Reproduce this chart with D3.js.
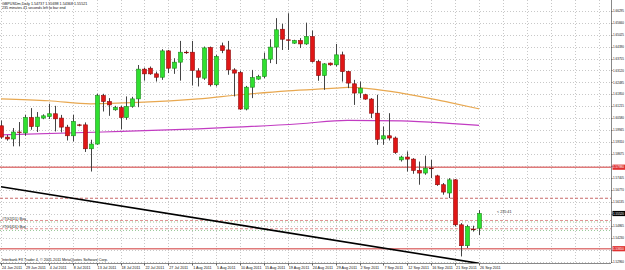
<!DOCTYPE html>
<html>
<head>
<meta charset="utf-8">
<script src="https://cdn.jsdelivr.net/npm/d3@7"></script>
<style>
  body { margin: 0; background: #fff; overflow: hidden; }
  svg { display: block; }
  text { font-family: "Liberation Sans", Arial, sans-serif; }
</style>
</head>
<body>
<script>
// GBPUSDm daily bars (broker has Sunday bars)
var barDates = ["2011-06-24","2011-06-26","2011-06-27","2011-06-28","2011-06-29","2011-06-30",
  "2011-07-01","2011-07-03","2011-07-04","2011-07-05","2011-07-06","2011-07-07","2011-07-08","2011-07-10",
  "2011-07-11","2011-07-12","2011-07-13","2011-07-14","2011-07-15","2011-07-17","2011-07-18","2011-07-19",
  "2011-07-20","2011-07-21","2011-07-22","2011-07-24","2011-07-25","2011-07-26","2011-07-27","2011-07-28",
  "2011-07-29","2011-07-31","2011-08-01","2011-08-02","2011-08-03","2011-08-04","2011-08-05","2011-08-07",
  "2011-08-08","2011-08-09","2011-08-10","2011-08-11","2011-08-12","2011-08-14","2011-08-15","2011-08-16",
  "2011-08-17","2011-08-18","2011-08-19","2011-08-21","2011-08-22","2011-08-23","2011-08-24","2011-08-25",
  "2011-08-26","2011-08-28","2011-08-29","2011-08-30","2011-08-31","2011-09-01","2011-09-02","2011-09-04",
  "2011-09-05","2011-09-06","2011-09-07","2011-09-08","2011-09-09","2011-09-11","2011-09-12","2011-09-13",
  "2011-09-14","2011-09-15","2011-09-16","2011-09-18","2011-09-19","2011-09-20","2011-09-21","2011-09-22",
  "2011-09-23","2011-09-25","2011-09-26"];

var opens = [1.6018,1.5958,1.5948,1.5985,1.5980,1.6062,1.6014,1.6059,1.6067,1.6082,
  1.6059,1.6011,1.5965,1.6023,1.6023,1.5896,1.5921,1.6179,1.6147,1.6103,
  1.6115,1.6062,1.6121,1.6161,1.6319,1.6324,1.6294,1.6276,1.6416,1.6324,
  1.6356,1.6409,1.6409,1.6310,1.6271,1.6434,1.6236,1.6443,1.6421,1.6315,
  1.6301,1.6107,1.6223,1.6266,1.6280,1.6372,1.6436,1.6531,1.6475,1.6457,
  1.6471,1.6453,1.6492,1.6359,1.6285,1.6351,1.6342,1.6395,1.6306,1.6241,
  1.6192,1.6183,1.6160,1.6085,1.5948,1.5965,1.5953,1.5837,1.5852,1.5841,
  1.5781,1.5767,1.5793,1.5752,1.5705,1.5661,1.5731,1.5492,1.5381,1.5469,
  1.5474];
var highs = [1.6046,1.5970,1.6006,1.6038,1.6076,1.6112,1.6091,1.6079,1.6135,1.6124,
  1.6076,1.6023,1.6076,1.6028,1.6036,1.5944,1.6188,1.6188,1.6165,1.6124,
  1.6124,1.6174,1.6172,1.6341,1.6327,1.6333,1.6306,1.6425,1.6421,1.6377,
  1.6469,1.6418,1.6469,1.6324,1.6439,1.6439,1.6395,1.6460,1.6469,1.6324,
  1.6310,1.6230,1.6315,1.6289,1.6407,1.6478,1.6590,1.6560,1.6616,1.6475,
  1.6484,1.6566,1.6524,1.6368,1.6351,1.6354,1.6453,1.6412,1.6310,1.6262,
  1.6253,1.6188,1.6165,1.6183,1.6014,1.6085,1.5961,1.5859,1.5882,1.5846,
  1.5828,1.5859,1.5837,1.5758,1.5714,1.5740,1.5735,1.5501,1.5492,1.5487,
  1.5570];
var lows = [1.5949,1.5939,1.5909,1.5909,1.5965,1.5997,1.5985,1.6053,1.6054,1.5988,
  1.5983,1.5940,1.5935,1.6015,1.5879,1.5775,1.5917,1.6094,1.6071,1.6098,
  1.6000,1.6050,1.6114,1.6117,1.6258,1.6289,1.6253,1.6262,1.6298,1.6294,
  1.6258,1.6400,1.6232,1.6227,1.6262,1.6227,1.6227,1.6404,1.6289,1.6174,
  1.6103,1.6100,1.6165,1.6262,1.6271,1.6351,1.6346,1.6421,1.6421,1.6453,
  1.6431,1.6448,1.6354,1.6257,1.6209,1.6337,1.6333,1.6253,1.6218,1.6129,
  1.6165,1.6156,1.6059,1.5917,1.5917,1.5940,1.5869,1.5828,1.5775,1.5763,
  1.5705,1.5758,1.5740,1.5699,1.5652,1.5634,1.5483,1.5324,1.5369,1.5456,
  1.5437];
var closes = [1.5958,1.5948,1.5985,1.5982,1.6062,1.6014,1.6064,1.6071,1.6082,1.6055,
  1.6011,1.5965,1.6041,1.6020,1.5896,1.5921,1.6179,1.6147,1.6129,1.6115,
  1.6062,1.6121,1.6161,1.6319,1.6294,1.6294,1.6276,1.6416,1.6324,1.6356,
  1.6409,1.6408,1.6312,1.6276,1.6432,1.6236,1.6386,1.6418,1.6315,1.6298,
  1.6107,1.6223,1.6274,1.6280,1.6372,1.6436,1.6528,1.6478,1.6473,1.6471,
  1.6453,1.6492,1.6359,1.6285,1.6347,1.6342,1.6395,1.6306,1.6245,1.6192,
  1.6218,1.6160,1.6085,1.5946,1.5965,1.5953,1.5876,1.5852,1.5841,1.5781,
  1.5767,1.5793,1.5792,1.5705,1.5666,1.5731,1.5492,1.5381,1.5483,1.5467,
  1.5552];

// moving averages, read at a few bars
var orangeMaBars = [0, 8, 15, 23, 33, 40, 48, 56, 58, 67, 75, 80];
var orangeMaValues = [1.6161, 1.6151, 1.6135, 1.6142, 1.6161, 1.6183, 1.6204, 1.6218, 1.6222, 1.6192, 1.6142, 1.6108];
var magentaMaBars = [0, 17, 33, 50, 58, 67, 75, 80];
var magentaMaValues = [1.5970, 1.5985, 1.6002, 1.6029, 1.6047, 1.6044, 1.6031, 1.6020];

// trend line (bar index, price)
var trendBars = [0, 80];
var trendPrices = [1.5694, 1.5287];

// horizontal levels
var redLevels = [1.5798, 1.5365];
var dashLevel = 1.5633;
var targetNames = ["#TG2(D1) Buy", "#TG1(D1) Buy"];
var targetRed = [1.5515, 1.5471];
var targetGreen = [1.5507, 1.5462];
var currentPrice = 1.5552;

var priceTicks = [1.52960, 1.53595, 1.54230, 1.54865, 1.55500, 1.56135, 1.56770, 1.57405, 1.58040, 1.58675,
  1.59310, 1.59945, 1.60580, 1.61215, 1.61850, 1.62485, 1.63120, 1.63755, 1.64390, 1.65025, 1.65660, 1.66295];

var headerLines = ["GBPUSDm,Daily  1.54737 1.55698 1.54368 1.55521", "235 minutes 41 seconds left to bar end"];
var timerText = "< 235:41";
var copyright = "Interbank FX Trader 4, \u00a9 2001-2011 MetaQuotes Software Corp.";

// ---- layout
var width = 625, height = 270;
var plotRight = 611, plotBottom = 263;
var fs = 3.7;
var axisFs = 3.05;

var svg = d3.select("body").append("svg")
    .attr("width", width)
    .attr("height", height);

var parseDate = d3.timeParse("%Y-%m-%d");
var fmtDate = d3.timeFormat("%-d %b %Y");

var x = d3.scaleLinear().domain([0, barDates.length - 1]).range([1, 479]);
var y = d3.scaleLinear().domain([priceTicks[0], priceTicks[priceTicks.length - 1]]).range([261.7, 10.7]);

svg.append("defs").append("clipPath").attr("id", "plot")
  .append("rect").attr("x", 0).attr("y", 0).attr("width", plotRight).attr("height", plotBottom);

var plot = svg.append("g").attr("clip-path", "url(#plot)");

// grid
var gridX = d3.range(0, 200, 4).filter(function(i) { return x(i) < plotRight - 2; });
plot.selectAll(".gx").data(gridX).enter().append("line")
  .attr("x1", function(i) { return Math.round(x(i)) + 0.5; })
  .attr("x2", function(i) { return Math.round(x(i)) + 0.5; })
  .attr("y1", 0).attr("y2", plotBottom)
  .attr("stroke", "#c8c8c8").attr("stroke-dasharray", "1,2");
plot.selectAll(".gy").data(priceTicks).enter().append("line")
  .attr("x1", 0).attr("x2", plotRight)
  .attr("y1", function(p) { return Math.round(y(p)) + 0.5; })
  .attr("y2", function(p) { return Math.round(y(p)) + 0.5; })
  .attr("stroke", "#c8c8c8").attr("stroke-dasharray", "1,2");

// levels
plot.selectAll(".red").data(redLevels).enter().append("line")
  .attr("x1", 0).attr("x2", plotRight)
  .attr("y1", function(p) { return y(p); }).attr("y2", function(p) { return y(p); })
  .attr("stroke", "#e07a7a").attr("stroke-width", 1.5);
plot.append("line")
  .attr("x1", 0).attr("x2", plotRight)
  .attr("y1", y(dashLevel)).attr("y2", y(dashLevel))
  .attr("stroke", "#c86a6a").attr("stroke-width", 1.2).attr("stroke-dasharray", "3,2");
plot.selectAll(".tgr").data(targetRed).enter().append("line")
  .attr("x1", 0).attr("x2", plotRight)
  .attr("y1", function(p) { return y(p); }).attr("y2", function(p) { return y(p); })
  .attr("stroke", "#e09090").attr("stroke-dasharray", "3,2");
plot.selectAll(".tgg").data(targetGreen).enter().append("line")
  .attr("x1", 0).attr("x2", plotRight)
  .attr("y1", function(p) { return y(p); }).attr("y2", function(p) { return y(p); })
  .attr("stroke", "#98c898").attr("stroke-dasharray", "1,2");
plot.selectAll(".tgt").data(targetNames).enter().append("text")
  .attr("x", 2).attr("y", function(d, i) { return y(targetRed[i]) - 0.3; })
  .attr("font-size", fs).attr("fill", "#222")
  .text(function(d) { return d; });

// moving averages
var maLine = d3.line()
  .x(function(d) { return x(d[0]); })
  .y(function(d) { return y(d[1]); })
  .curve(d3.curveMonotoneX);
plot.append("path")
  .attr("d", maLine(d3.zip(orangeMaBars, orangeMaValues)))
  .attr("fill", "none").attr("stroke", "#e8a850").attr("stroke-width", 1.2);
plot.append("path")
  .attr("d", maLine(d3.zip(magentaMaBars, magentaMaValues)))
  .attr("fill", "none").attr("stroke", "#c23cc2").attr("stroke-width", 1.2);

// trend line
plot.append("path")
  .attr("d", d3.line().x(function(d) { return x(d[0]); }).y(function(d) { return y(d[1]); })(d3.zip(trendBars, trendPrices)))
  .attr("stroke", "#000").attr("stroke-width", 1.6).attr("fill", "none");

// candles
var bars = barDates.map(function(d, i) {
  return { i: i, o: opens[i], h: highs[i], l: lows[i], c: closes[i] };
});
var candle = plot.selectAll(".candle").data(bars).enter().append("g").attr("class", "candle");
candle.append("line")
  .attr("x1", function(d) { return Math.round(x(d.i)) + 0.5; })
  .attr("x2", function(d) { return Math.round(x(d.i)) + 0.5; })
  .attr("y1", function(d) { return y(d.h); })
  .attr("y2", function(d) { return y(d.l); })
  .attr("stroke", "#444").attr("stroke-width", 1);
candle.append("rect")
  .attr("x", function(d) { return Math.round(x(d.i)) - 1.5; })
  .attr("width", 4)
  .attr("y", function(d) { return y(Math.max(d.o, d.c)); })
  .attr("height", function(d) { return Math.max(0.6, Math.abs(y(d.o) - y(d.c))); })
  .attr("fill", function(d) { return d.c >= d.o ? "#30e030" : "#e01616"; })
  .attr("stroke", function(d) { return d.c >= d.o ? "#1c8a1c" : "#8c0a0a"; })
  .attr("stroke-width", 0.6);

// timer text
svg.append("text")
  .attr("x", 497).attr("y", y(currentPrice) - 0.5)
  .attr("font-size", fs).attr("fill", "#222")
  .text(timerText);

// header
svg.selectAll(".hdr").data(headerLines).enter().append("text")
  .attr("x", 2).attr("y", function(d, i) { return 5 + i * 4.4; })
  .attr("font-size", fs).attr("fill", "#111")
  .text(function(d) { return d; });

svg.append("text")
  .attr("x", 2).attr("y", 261)
  .attr("font-size", fs).attr("fill", "#111")
  .text(copyright);

// axes frame
svg.append("line").attr("x1", plotRight + 0.5).attr("x2", plotRight + 0.5).attr("y1", 0).attr("y2", plotBottom)
  .attr("stroke", "#888");
svg.append("line").attr("x1", 0).attr("x2", plotRight).attr("y1", plotBottom + 0.5).attr("y2", plotBottom + 0.5)
  .attr("stroke", "#888");

// price labels
var markers = redLevels.concat([currentPrice]);
var shownTicks = priceTicks.filter(function(p) {
  return markers.every(function(m) { return Math.abs(y(m) - y(p)) > 5; });
});
svg.selectAll(".pt").data(priceTicks).enter().append("line")
  .attr("x1", plotRight).attr("x2", plotRight + 1.5)
  .attr("y1", function(p) { return Math.round(y(p)) + 0.5; })
  .attr("y2", function(p) { return Math.round(y(p)) + 0.5; })
  .attr("stroke", "#666");
svg.selectAll(".pl").data(shownTicks).enter().append("text")
  .attr("x", plotRight + 2).attr("y", function(p) { return y(p) + 1.1; })
  .attr("font-size", axisFs).attr("fill", "#111")
  .text(function(p) { return p.toFixed(5); });

var markerColors = ["#e03030", "#e03030", "#000"];
var mk = svg.selectAll(".mk").data(markers).enter().append("g");
mk.append("rect")
  .attr("x", plotRight + 1.5).attr("width", 13)
  .attr("y", function(p) { return y(p) - 2.6; }).attr("height", 5.2)
  .attr("fill", function(p, i) { return markerColors[i]; });
mk.append("text")
  .attr("x", plotRight + 2).attr("y", function(p) { return y(p) + 1.1; })
  .attr("font-size", axisFs).attr("fill", "#fff")
  .text(function(p) { return p.toFixed(5); });

// date labels
var dateTicks = d3.range(0, barDates.length, 4);
svg.selectAll(".dt").data(dateTicks).enter().append("line")
  .attr("x1", function(i) { return Math.round(x(i)) + 0.5; })
  .attr("x2", function(i) { return Math.round(x(i)) + 0.5; })
  .attr("y1", plotBottom).attr("y2", plotBottom + 2.5)
  .attr("stroke", "#666");
svg.selectAll(".dl").data(dateTicks).enter().append("text")
  .attr("x", function(i) { return x(i) + 1; })
  .attr("y", 268.5)
  .attr("font-size", fs).attr("fill", "#111")
  .text(function(i) { return fmtDate(parseDate(barDates[i])); });
</script>
</body>
</html>
